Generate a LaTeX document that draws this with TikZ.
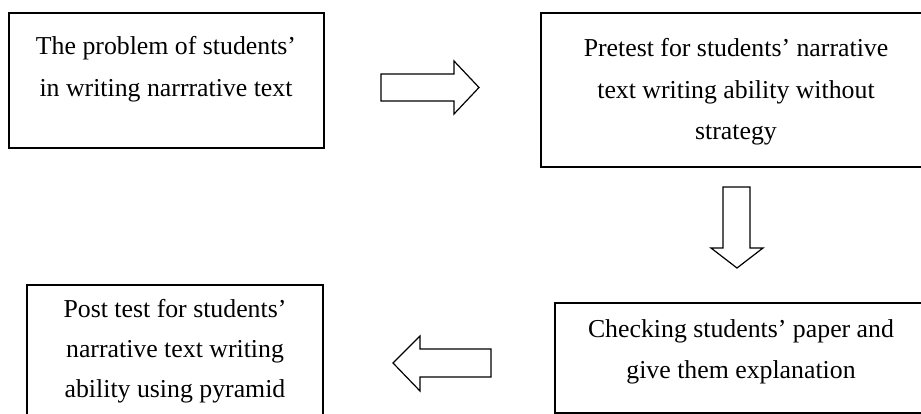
\documentclass[tikz,border=0pt]{standalone}
\usepackage{fontspec}
\setmainfont{Liberation Serif}
\begin{document}
\begin{tikzpicture}[x=1pt,y=-1pt,
  box/.style={draw, line width=1.6pt, inner sep=0pt, outer sep=0pt, anchor=north west},
  label/.style={anchor=base, inner sep=0pt, font=\fontsize{25.8}{41.5}\selectfont},
  blockarrow/.style={draw, line width=1.2pt, line join=miter}]
\clip (0,0) rectangle (921,414);
\fill[white] (0,0) rectangle (921,414);
% boxes
\node[box, minimum width=315pt, minimum height=135pt] (b1) at (9,13) {};
\node[box, minimum width=390pt, minimum height=154pt] (b2) at (541,13) {};
\node[box, minimum width=372pt, minimum height=110pt] (b4) at (555,303) {};
\node[box, minimum width=296pt, minimum height=140pt] (b3) at (27,285) {};
% texts
\node[label] (t1) at (166,55) {\begin{tabular}[t]{@{}c@{}}The problem of students'\\in writing narrrative text\end{tabular}};
\node[label] (t2) at (736,57) {\begin{tabular}[t]{@{}c@{}}Pretest for students' narrative\\text writing ability without\\strategy\end{tabular}};
\node[label] (t4) at (741,337) {\begin{tabular}[t]{@{}c@{}}Checking students' paper and\\give them explanation\end{tabular}};
\node[label, font=\fontsize{25.8}{40}\selectfont] (t3) at (175,317) {\begin{tabular}[t]{@{}c@{}}Post test for students'\\narrative text writing\\ability using pyramid\end{tabular}};
% block arrows
\draw[blockarrow] (381,74) -- (454,74) -- (454,61) -- (479,87.5) -- (454,114) -- (454,101) -- (381,101) -- cycle;
\draw[blockarrow] (723,187) -- (750,187) -- (750,248) -- (763,248) -- (737,268) -- (711,248) -- (723,248) -- cycle;
\draw[blockarrow] (491,349) -- (420,349) -- (420,336) -- (393,363) -- (420,391) -- (420,377) -- (491,377) -- cycle;
\end{tikzpicture}
\end{document}
